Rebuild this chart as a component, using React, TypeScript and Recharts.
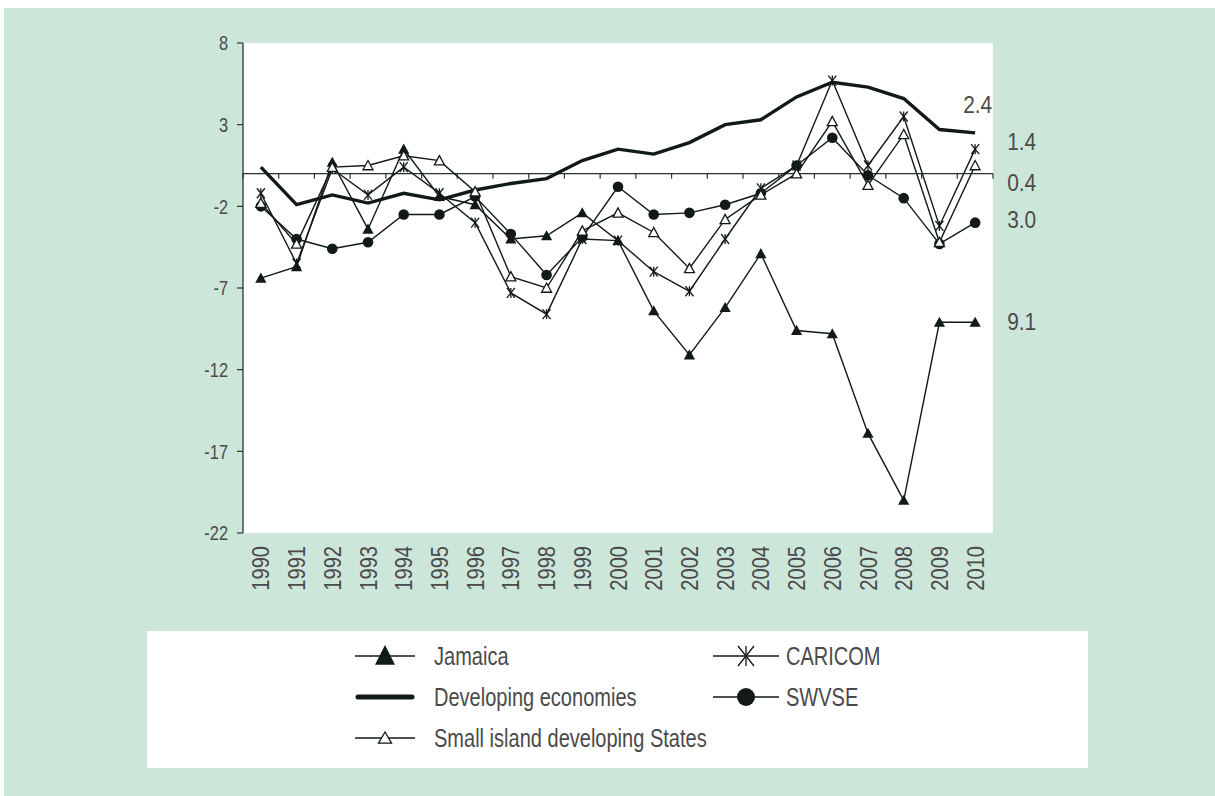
import React from "react";
import { LineChart, Line, XAxis, YAxis, ReferenceLine, ReferenceArea, LabelList } from "recharts";

const years = [
  1990, 1991, 1992, 1993, 1994, 1995, 1996, 1997, 1998, 1999, 2000,
  2001, 2002, 2003, 2004, 2005, 2006, 2007, 2008, 2009, 2010,
];
const jamaica = [-6.4, -5.7, 0.7, -3.4, 1.5, -1.4, -1.9, -4.0, -3.8, -2.4, -4.1, -8.4, -11.1, -8.2, -4.9, -9.6, -9.8, -15.9, -20.0, -9.1, -9.1];
const developing = [0.4, -1.9, -1.3, -1.8, -1.2, -1.6, -1.0, -0.6, -0.3, 0.8, 1.5, 1.2, 1.9, 3.0, 3.3, 4.7, 5.6, 5.3, 4.6, 2.7, 2.5];
const caricom = [-1.2, -5.5, 0.3, -1.3, 0.4, -1.2, -3.0, -7.3, -8.6, -4.0, -4.1, -6.0, -7.2, -4.0, -0.9, 0.5, 5.7, 0.5, 3.5, -3.2, 1.5];
const swvse = [-2.0, -4.0, -4.6, -4.2, -2.5, -2.5, -1.4, -3.7, -6.2, -3.9, -0.8, -2.5, -2.4, -1.9, -1.2, 0.5, 2.2, -0.1, -1.5, -4.3, -3.0];
const sids = [-1.8, -4.3, 0.4, 0.5, 1.1, 0.8, -1.1, -6.3, -7.0, -3.5, -2.4, -3.6, -5.8, -2.8, -1.3, 0.0, 3.2, -0.7, 2.4, -4.2, 0.5];

const yTicks = [-22, -17, -12, -7, -2, 3, 8];
const seriesNames = ["Jamaica", "Developing economies", "CARICOM", "SWVSE", "Small island developing States"];
const endLabels = ["9.1", "2.4", "1.4", "3.0", "0.4"];

const data = years.map((year, i) => ({
  year,
  jamaica: jamaica[i],
  developing: developing[i],
  caricom: caricom[i],
  swvse: swvse[i],
  sids: sids[i],
}));

// no narrow face installed, so Liberation Sans gets squeezed sideways
const FONT = "'Liberation Sans', Arial, sans-serif";
const INK = "#111a14";
const TEXT = "#4a4a4a";
const BG = "#cde6da";

type Kind = "filledTriangle" | "openTriangle" | "asterisk" | "circle" | "none";

const series: { key: string; name: string; end: string; kind: Kind; width: number; dx: number; dy: number }[] = [
  { key: "developing", name: seriesNames[1], end: endLabels[1], kind: "none", width: 3.4, dx: -12, dy: -28 },
  { key: "jamaica", name: seriesNames[0], end: endLabels[0], kind: "filledTriangle", width: 1.4, dx: 32, dy: -1 },
  { key: "caricom", name: seriesNames[2], end: endLabels[2], kind: "asterisk", width: 1.4, dx: 32, dy: -8 },
  { key: "swvse", name: seriesNames[3], end: endLabels[3], kind: "circle", width: 1.4, dx: 32, dy: -3 },
  { key: "sids", name: seriesNames[4], end: endLabels[4], kind: "openTriangle", width: 1.4, dx: 32, dy: 17 },
];

// legend placement: [column, row]
const legendSlots: Record<string, [number, number]> = {
  jamaica: [0, 0],
  caricom: [1, 0],
  developing: [0, 1],
  swvse: [1, 1],
  sids: [0, 2],
};

function NarrowText({ x, y, rotate = 0, anchor = "start", size, squeeze = 0.82, children, dy = "0.35em" }: any) {
  return (
    <text
      transform={`translate(${x}, ${y}) rotate(${rotate}) scale(${squeeze}, 1)`}
      x={0}
      y={0}
      dy={dy}
      textAnchor={anchor}
      fill={TEXT}
      fontSize={size}
      fontFamily={FONT}
    >
      {children}
    </text>
  );
}

function Marker({ kind, cx, cy, big = false }: { kind: Kind; cx: number; cy: number; big?: boolean }) {
  if (cx == null || cy == null) return null;
  switch (kind) {
    case "filledTriangle": {
      const w = big ? 10 : 5.6, h = big ? 11 : 5.6;
      return <polygon points={`${cx},${cy - h} ${cx - w},${cy + h * 0.8} ${cx + w},${cy + h * 0.8}`} fill={INK} />;
    }
    case "openTriangle": {
      const w = big ? 6.5 : 5, h = big ? 6 : 5;
      return (
        <polygon
          points={`${cx},${cy - h} ${cx - w},${cy + h * 0.85} ${cx + w},${cy + h * 0.85}`}
          fill="#fff"
          stroke={INK}
          strokeWidth={1.3}
        />
      );
    }
    case "asterisk": {
      const s = big ? 10 : 5;
      return (
        <g stroke={INK} strokeWidth={1.3}>
          <line x1={cx - s * 0.8} y1={cy - s} x2={cx + s * 0.8} y2={cy + s} />
          <line x1={cx - s * 0.8} y1={cy + s} x2={cx + s * 0.8} y2={cy - s} />
          <line x1={cx} y1={cy - s} x2={cx} y2={cy + s} />
        </g>
      );
    }
    case "circle":
      return <circle cx={cx} cy={cy} r={big ? 9 : 5.3} fill={INK} />;
    default:
      return null;
  }
}

const YearTick = ({ x, y, payload }: any) => (
  <NarrowText x={x} y={y} rotate={-90} anchor="end" size={24.5}>
    {payload.value}
  </NarrowText>
);

const ValueTick = ({ x, y, payload }: any) => (
  <NarrowText x={x} y={y} anchor="end" size={20.5} squeeze={0.8}>
    {payload.value}
  </NarrowText>
);

const ZeroAxis = (props: any) => {
  const left = Math.min(props.x1, props.x2);
  const right = Math.max(props.x1, props.x2);
  const y = props.y1;
  const step = (right - left) / years.length;
  return (
    <g>
      <line x1={left} y1={y} x2={right} y2={y} stroke="#2b332e" strokeWidth={1.3} />
      {[...years, null].map((_, i) => (
        <line key={i} x1={left + i * step} x2={left + i * step} y1={y} y2={y + 5} stroke="#2b332e" strokeWidth={1.2} />
      ))}
    </g>
  );
};

function LegendItem({ s }: { s: (typeof series)[number] }) {
  const [col, row] = legendSlots[s.key];
  const left = col === 0 ? 208 : 566;
  const w = col === 0 ? 60 : 66;
  const gap = col === 0 ? 19 : 7;
  const top = [25, 66, 107][row];
  return (
    <div style={{ position: "absolute", left, top: top - 15, height: 30, display: "flex", alignItems: "center" }}>
      <svg width={w} height={30} style={{ display: "block" }}>
        <line
          x1={s.kind === "none" ? 3 : 0}
          x2={s.kind === "none" ? w - 3 : w}
          y1={15}
          y2={15}
          stroke={INK}
          strokeWidth={s.kind === "none" ? 5 : 1.6}
          strokeLinecap={s.kind === "none" ? "round" : "butt"}
        />
        <Marker kind={s.kind} cx={w / 2} cy={15} big />
      </svg>
      <span
        style={{
          display: "inline-block",
          marginLeft: gap,
          fontFamily: FONT,
          fontSize: 26,
          color: TEXT,
          lineHeight: 1,
          whiteSpace: "nowrap",
          transform: "scaleX(0.77)",
          transformOrigin: "left center",
        }}
      >
        {s.name}
      </span>
    </div>
  );
}

export default function App() {
  const last = years.length - 1;
  return (
    <div style={{ position: "absolute", left: 0, top: 0, width: 1215, height: 796, background: "#fff" }}>
      <div style={{ position: "absolute", left: 4, top: 8, width: 1211, height: 788, background: BG }} />
      <div style={{ position: "absolute", left: 0, top: 0 }}>
        <LineChart width={1215} height={796} data={data} margin={{ top: 43, right: 222, bottom: 203, left: 183 }}>
          <ReferenceArea x1={1989.5} x2={2010.5} y1={-22} y2={8} fill="#fff" fillOpacity={1} stroke="none" />
          <XAxis
            dataKey="year"
            type="number"
            domain={[1989.5, 2010.5]}
            ticks={years}
            interval={0}
            height={60}
            axisLine={false}
            tickLine={false}
            tickMargin={7}
            tick={(p: any) => <YearTick {...p} />}
          />
          <YAxis
            type="number"
            width={60}
            domain={[-22, 8]}
            ticks={yTicks}
            interval={0}
            allowDataOverflow
            axisLine={{ stroke: "#2b332e", strokeWidth: 1.3 }}
            tickLine={{ stroke: "#2b332e", strokeWidth: 1.2 }}
            tickSize={6}
            tickMargin={9}
            tick={(p: any) => <ValueTick {...p} />}
          />
          <ReferenceLine y={0} shape={(p: any) => <ZeroAxis {...p} />} />
          {series.map((s) => (
            <Line
              key={s.key}
              dataKey={s.key}
              name={s.name}
              stroke={INK}
              strokeWidth={s.width}
              isAnimationActive={false}
              dot={(p: any) => <Marker key={p.index} kind={s.kind} cx={p.cx} cy={p.cy} />}
              activeDot={false}
            >
              <LabelList
                dataKey={s.key}
                content={(p: any) =>
                  p.index === last ? (
                    <NarrowText key={s.key} x={p.x + s.dx} y={p.y + s.dy} size={24} squeeze={0.87}>
                      {s.end}
                    </NarrowText>
                  ) : null
                }
              />
            </Line>
          ))}
        </LineChart>
      </div>
      <div style={{ position: "absolute", left: 147, top: 631, width: 941, height: 137, background: "#fff" }}>
        {series.map((s) => (
          <LegendItem key={s.key} s={s} />
        ))}
      </div>
    </div>
  );
}
